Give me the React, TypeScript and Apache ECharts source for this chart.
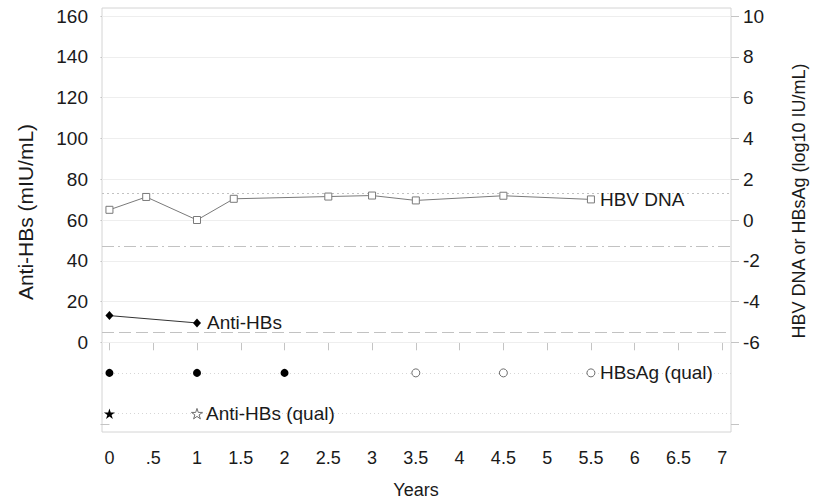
import React, { useEffect, useRef } from "react";
import * as echarts from "echarts";

// ---- data ----
const xTicks = [0, 0.5, 1, 1.5, 2, 2.5, 3, 3.5, 4, 4.5, 5, 5.5, 6, 6.5, 7];
const leftTickLabels = [0, 20, 40, 60, 80, 100, 120, 140, 160];
const leftTickMarks = [-40, 0, 20, 40, 60, 80, 100, 120, 140, 160];
const rightTickLabels = [-6, -4, -2, 0, 2, 4, 6, 8, 10];
const rightTickMarks = [-10, -6, -4, -2, 0, 2, 4, 6, 8, 10];

const hbvYears = [0, 0.42, 1, 1.42, 2.5, 3, 3.5, 4.5, 5.5];
const hbvDna = [0.5, 1.13, 0.0, 1.04, 1.15, 1.2, 0.96, 1.19, 1.01];

const antiHbsYears = [0, 1];
const antiHbs = [13.1, 9.5];

const hbsagQualYears = [0, 1, 2, 3.5, 4.5, 5.5];
const hbsagQualPositive = [true, true, true, false, false, false];

const antiQualYears = [0, 1];
const antiQualPositive = [true, false];

const hbvDnaLimit = 1.3; // right axis
const hbsagLimit = -1.3; // right axis
const antiHbsLimit = 5; // left axis
const hbsagQualRow = -15; // left axis row
const antiQualRow = -35; // left axis row

const FONT = "'Liberation Sans', Arial, Helvetica, sans-serif";
const STAR =
  "path://M50,0L61.2,34.5L97.6,34.5L68.2,55.9L79.4,90.5L50,69.1L20.6,90.5L31.8,55.9L2.4,34.5L38.8,34.5Z";

export default function App() {
  const ref = useRef<HTMLDivElement>(null);
  useEffect(() => {
    if (!ref.current) return;
    const chart = echarts.init(ref.current, null, { renderer: "svg" });
    const labelStyle = { fontFamily: FONT, fontSize: 18, color: "#1a1a1a" };
    const annoStyle = { fontFamily: FONT, fontSize: 19, color: "#1a1a1a" };
    const tickColor = "#c4c4c4";
    const option: any = {
      animation: false,
      backgroundColor: "#ffffff",
      grid: {
        left: 102,
        top: 8,
        right: 91,
        bottom: 70,
        show: true,
        borderColor: "#d4d4d4",
        borderWidth: 1,
        backgroundColor: "transparent",
      },
      xAxis: {
        type: "value",
        min: -0.085,
        max: 7.1,
        axisLine: { show: false },
        splitLine: { show: false },
        axisTick: {
          show: true,
          length: 8,
          customValues: xTicks,
          lineStyle: { color: tickColor },
        },
        axisLabel: {
          ...labelStyle,
          margin: 17,
          customValues: xTicks,
          formatter: (v: number) => (v === 0.5 ? ".5" : String(v)),
        },
      },
      yAxis: [
        {
          type: "value",
          min: -44,
          max: 164,
          axisLine: { show: false },
          splitLine: { show: false },
          axisTick: {
            show: true,
            length: 9,
            customValues: leftTickMarks,
            lineStyle: { color: tickColor },
          },
          axisLabel: {
            ...labelStyle,
            fontSize: 19,
            margin: 14,
            customValues: leftTickLabels,
          },
        },
        {
          type: "value",
          position: "right",
          min: -10.4,
          max: 10.4,
          axisLine: { show: false },
          splitLine: { show: false },
          axisTick: {
            show: true,
            length: 8,
            customValues: rightTickMarks,
            lineStyle: { color: tickColor },
          },
          axisLabel: {
            ...labelStyle,
            fontSize: 19,
            margin: 12,
            customValues: rightTickLabels,
          },
        },
      ],
      series: [
        {
          // gridlines + anti-HBs limit
          type: "line",
          yAxisIndex: 0,
          data: [],
          markLine: {
            silent: true,
            symbol: "none",
            label: { show: false },
            data: [
              ...leftTickLabels.map((v) => ({
                yAxis: v,
                lineStyle: { color: "#eeeeee", width: 1, type: "solid" },
              })),
              {
                yAxis: antiHbsLimit,
                lineStyle: { color: "#c2c2c2", width: 1, type: [12, 5] },
              },
            ],
          },
        },
        {
          type: "line",
          yAxisIndex: 1,
          data: [],
          markLine: {
            silent: true,
            symbol: "none",
            label: { show: false },
            data: [
              {
                yAxis: hbvDnaLimit,
                lineStyle: { color: "#c2c2c2", width: 1, type: [2, 3] },
              },
              {
                yAxis: hbsagLimit,
                lineStyle: { color: "#c2c2c2", width: 1, type: [12, 4, 2, 4] },
              },
            ],
          },
        },
        {
          name: "HBV DNA",
          type: "line",
          yAxisIndex: 1,
          data: hbvYears.map((x, i) => [x, hbvDna[i]]),
          symbol: "rect",
          symbolSize: 7,
          showAllSymbol: true,
          lineStyle: { color: "#7a7a7a", width: 1 },
          itemStyle: { color: "#ffffff", borderColor: "#7a7a7a", borderWidth: 1 },
          endLabel: { show: true, formatter: "HBV DNA", ...annoStyle, distance: 9 },
          z: 5,
        },
        {
          name: "Anti-HBs",
          type: "line",
          yAxisIndex: 0,
          data: antiHbsYears.map((x, i) => [x, antiHbs[i]]),
          symbol: "diamond",
          symbolSize: [8, 9],
          lineStyle: { color: "#333333", width: 1 },
          itemStyle: { color: "#000000" },
          endLabel: { show: true, formatter: "Anti-HBs", ...annoStyle, distance: 10 },
          z: 5,
        },
        {
          name: "HBsAg (qual)",
          type: "line",
          yAxisIndex: 0,
          data: hbsagQualYears.map((x, i) => ({
            value: [x, hbsagQualRow],
            itemStyle: hbsagQualPositive[i]
              ? { color: "#000000", borderColor: "#000000", borderWidth: 0 }
              : { color: "#ffffff", borderColor: "#6e6e6e", borderWidth: 1 },
          })),
          symbol: "circle",
          symbolSize: 8,
          lineStyle: { width: 0, opacity: 0 },
          endLabel: { show: true, formatter: "HBsAg (qual)", ...annoStyle, distance: 9 },
          markLine: {
            silent: true,
            symbol: "none",
            label: { show: false },
            data: [{ yAxis: hbsagQualRow }],
            lineStyle: { color: "#d6d6d6", width: 1, type: [1, 3] },
          },
          z: 5,
        },
        {
          name: "Anti-HBs (qual)",
          type: "line",
          yAxisIndex: 0,
          data: antiQualYears.map((x, i) => ({
            value: [x, antiQualRow],
            itemStyle: antiQualPositive[i]
              ? { color: "#000000", borderColor: "#000000", borderWidth: 0 }
              : { color: "#ffffff", borderColor: "#6e6e6e", borderWidth: 1 },
          })),
          symbol: STAR,
          symbolSize: 11,
          symbolKeepAspect: true,
          lineStyle: { width: 0, opacity: 0 },
          endLabel: { show: true, formatter: "Anti-HBs (qual)", ...annoStyle, distance: 9 },
          markLine: {
            silent: true,
            symbol: "none",
            label: { show: false },
            data: [{ yAxis: antiQualRow }],
            lineStyle: { color: "#d6d6d6", width: 1, type: [1, 3] },
          },
          z: 5,
        },
      ],
      graphic: [
        {
          type: "text",
          x: 25,
          y: 212,
          rotation: Math.PI / 2,
          style: {
            text: "Anti-HBs (mIU/mL)",
            font: `21px ${FONT}`,
            fill: "#1a1a1a",
            align: "center",
            verticalAlign: "middle",
          },
        },
        {
          type: "text",
          x: 799,
          y: 201,
          rotation: Math.PI / 2,
          style: {
            text: "HBV DNA or HBsAg (log10 IU/mL)",
            font: `18px ${FONT}`,
            fill: "#1a1a1a",
            align: "center",
            verticalAlign: "middle",
          },
        },
        {
          type: "text",
          x: 416,
          y: 490,
          style: {
            text: "Years",
            font: `18px ${FONT}`,
            fill: "#1a1a1a",
            align: "center",
            verticalAlign: "middle",
          },
        },
      ],
    };
    chart.setOption(option);
    return () => chart.dispose();
  }, []);
  return (
    <div
      ref={ref}
      style={{ position: "fixed", left: 0, top: 0, width: 822, height: 502, background: "#fff" }}
    />
  );
}
